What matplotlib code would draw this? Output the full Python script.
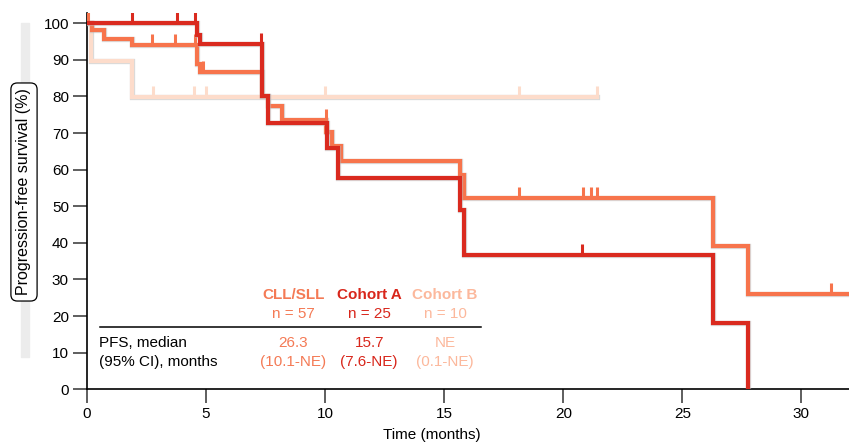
import numpy as np
import matplotlib.pyplot as plt
import matplotlib.patches as mpatches
import matplotlib.patheffects as pe

plt.rcParams['font.family'] = ['Liberation Sans', 'DejaVu Sans']

# --- dados ---
# CLL/SLL
t_cll = [0, 0.2, 0.7, 1.88, 4.62, 4.75, 7.35, 7.6, 8.2, 10.05, 10.3, 10.65, 15.67, 15.85, 26.3, 27.77]
s_cll = [100, 98.2, 95.6, 94.0, 89.0, 86.7, 80.0, 77.5, 73.7, 70.2, 66.5, 62.3, 58.5, 52.2, 39.2, 26.0]
c_cll_t = [0.05, 2.74, 3.7, 4.54, 4.87, 10.03, 18.15, 20.81, 21.18, 21.42, 31.25]
fim_cll = 32.0

# Cohort A
t_a = [0, 4.61, 4.75, 7.35, 7.6, 10.08, 10.55, 15.67, 15.84, 26.3, 27.77]
s_a = [100, 96.8, 94.3, 80.0, 72.8, 66.0, 57.6, 49.0, 36.7, 18.1, 0]
c_a_t = [1.9, 3.77, 4.54, 7.31, 20.8]
fim_a = 27.77

# Cohort B
t_b = [0, 0.15, 1.88]
s_b = [100, 89.6, 79.9]
c_b_t = [2.79, 4.51, 4.99, 10.0, 18.15, 21.42]
fim_b = 21.42

grupos = ["CLL/SLL", "Cohort A", "Cohort B"]
n_grupos = ["n = 57", "n = 25", "n = 10"]
medianas = ["26.3", "15.7", "NE"]
ic95 = ["(10.1-NE)", "(7.6-NE)", "(0.1-NE)"]

cor_cll = "#f7744c"
cor_a = "#da2a1f"
cor_b = "#fddccb"
cores_texto = ["#f47a55", "#d8261b", "#fcb89c"]

# --- figura ---
fig = plt.figure(figsize=(8.49, 4.43), dpi=100)
ax = fig.add_axes([87 / 849, (443 - 389.3) / 443, 762 / 849, (389.3 - 13) / 443])

# barra cinza atrás do rótulo do eixo y
fig.patches.append(mpatches.Rectangle((20.5 / 849, (443 - 357) / 443), 8.5 / 849, 334 / 443,
                                      transform=fig.transFigure, color="#ececec", zorder=0))

sombra = [pe.Stroke(linewidth=3.8, foreground="#bdbdbd", alpha=0.55), pe.Normal()]


def desenha_curva(tempos, surv, fim, censuras, cor, z):
    x = list(tempos) + [fim]
    y = list(surv) + [surv[-1]]
    ax.step(x, y, where="post", color=cor, lw=3.0, zorder=z,
            solid_joinstyle="miter", path_effects=sombra)
    for tc in censuras:
        idx = np.searchsorted(tempos, tc, side="right") - 1
        v = surv[idx]
        ax.plot([tc, tc], [v, v + 3.0], color=cor, lw=2.2, zorder=z,
                solid_capstyle="butt")


desenha_curva(t_b, s_b, fim_b, c_b_t, cor_b, 2)
desenha_curva(t_cll, s_cll, fim_cll, c_cll_t, cor_cll, 3)
desenha_curva(t_a, s_a, fim_a, c_a_t, cor_a, 4)

ax.set_xlim(0, 32.0)
ax.set_ylim(0, 102.8)
ax.set_xticks(range(0, 31, 5))
ax.set_yticks(range(0, 101, 10))
ax.tick_params(axis="both", length=10, width=1.1, color="#333333", labelsize=11, pad=3)
for lado in ["top", "right"]:
    ax.spines[lado].set_visible(False)
for lado in ["left", "bottom"]:
    ax.spines[lado].set_linewidth(1.2)

ax.set_xlabel("Time (months)", fontsize=11, va="center")
ax.xaxis.set_label_coords(0.453, -0.121)

fig.text(24 / 849, 1 - 192 / 443, "Progression-free survival (%)", rotation=90,
         ha="center", va="center", fontsize=11.5,
         bbox=dict(boxstyle="round,pad=0.35,rounding_size=0.4", fc="white", ec="black", lw=0.9))

# --- tabela ---
xs = [8.66, 11.85, 15.04]
for i in range(3):
    ax.text(xs[i], 25.8, grupos[i], ha="center", va="center", fontsize=11,
            fontweight="bold", color=cores_texto[i])
    ax.text(xs[i], 20.6, n_grupos[i], ha="center", va="center", fontsize=11,
            color=cores_texto[i])
    ax.text(xs[i], 12.6, medianas[i], ha="center", va="center", fontsize=11,
            color=cores_texto[i])
    ax.text(xs[i], 7.5, ic95[i], ha="center", va="center", fontsize=11,
            color=cores_texto[i])
ax.plot([0.55, 16.55], [17.0, 17.0], color="black", lw=1.1, zorder=5)
ax.text(0.5, 12.6, "PFS, median", ha="left", va="center", fontsize=11)
ax.text(0.5, 7.5, "(95% CI), months", ha="left", va="center", fontsize=11)

fig.savefig("out.png", dpi=100)
